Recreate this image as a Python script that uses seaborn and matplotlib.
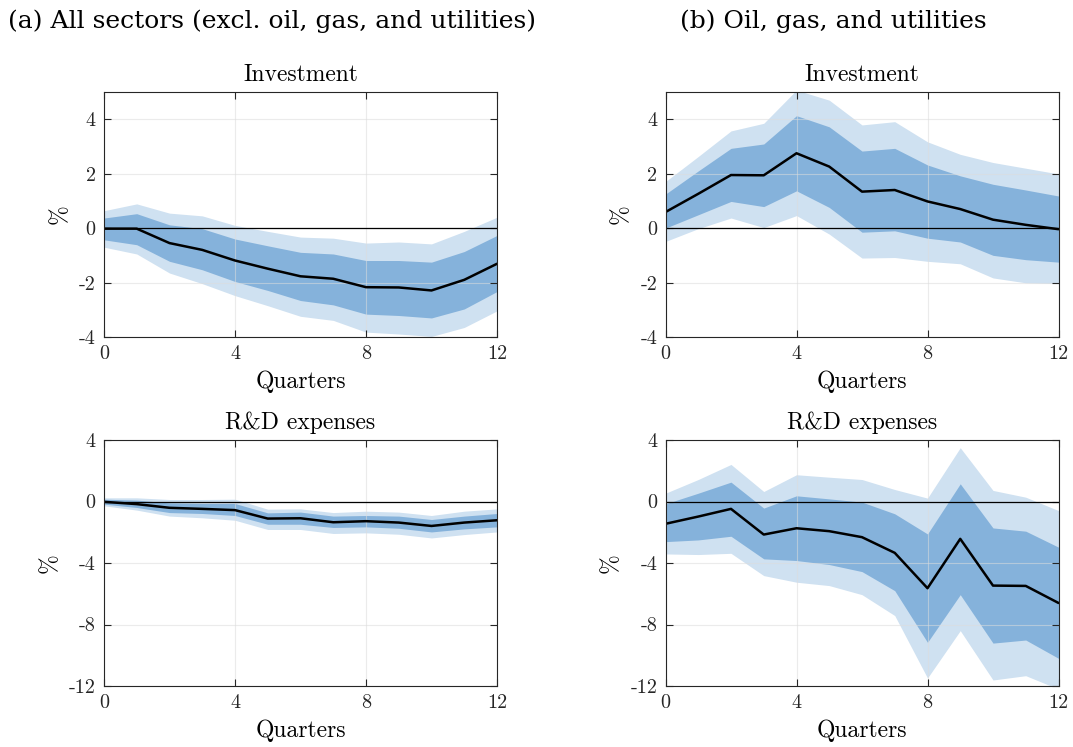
import numpy as np
import pandas as pd
import matplotlib
matplotlib.use("Agg")
import matplotlib.pyplot as plt
from matplotlib.ticker import FuncFormatter, FixedLocator
import seaborn as sns

# Horizon (quarters after the shock)
quarters = list(range(13))

# (a) All sectors, investment
inv_a_mean = [-0.02, -0.02, -0.55, -0.80, -1.19, -1.49, -1.77, -1.86, -2.17, -2.18, -2.29, -1.90, -1.31]
inv_a_lo68 = [-0.43, -0.61, -1.22, -1.53, -1.96, -2.29, -2.66, -2.82, -3.16, -3.21, -3.30, -2.97, -2.33]
inv_a_hi68 = [0.37, 0.53, 0.12, -0.02, -0.40, -0.65, -0.89, -0.95, -1.19, -1.19, -1.25, -0.86, -0.27]
inv_a_lo90 = [-0.70, -0.95, -1.65, -2.04, -2.48, -2.85, -3.24, -3.39, -3.82, -3.89, -3.98, -3.65, -3.04]
inv_a_hi90 = [0.64, 0.89, 0.55, 0.45, 0.10, -0.12, -0.33, -0.37, -0.55, -0.51, -0.58, -0.12, 0.40]

# (b) Oil, gas, and utilities, investment
inv_b_mean = [0.59, 1.26, 1.95, 1.94, 2.75, 2.26, 1.34, 1.40, 0.98, 0.70, 0.31, 0.12, -0.04]
inv_b_lo68 = [0.00, 0.49, 0.98, 0.79, 1.37, 0.76, -0.15, -0.10, -0.37, -0.51, -1.00, -1.16, -1.25]
inv_b_hi68 = [1.25, 2.10, 2.93, 3.09, 4.13, 3.72, 2.83, 2.93, 2.32, 1.92, 1.61, 1.40, 1.18]
inv_b_lo90 = [-0.49, -0.02, 0.37, 0.02, 0.46, -0.22, -1.10, -1.08, -1.22, -1.31, -1.83, -2.01, -2.04]
inv_b_hi90 = [1.71, 2.63, 3.57, 3.85, 5.07, 4.70, 3.79, 3.91, 3.17, 2.71, 2.41, 2.20, 1.99]

# (a) All sectors, R&D expenses
rd_a_mean = [-0.02, -0.17, -0.41, -0.48, -0.56, -1.11, -1.09, -1.35, -1.28, -1.37, -1.59, -1.37, -1.22]
rd_a_lo68 = [-0.17, -0.39, -0.72, -0.78, -0.91, -1.48, -1.48, -1.69, -1.65, -1.74, -1.98, -1.78, -1.65]
rd_a_hi68 = [0.15, 0.09, -0.09, -0.13, -0.13, -0.74, -0.69, -0.95, -0.91, -0.95, -1.17, -0.95, -0.78]
rd_a_lo90 = [-0.28, -0.56, -0.95, -1.06, -1.22, -1.82, -1.82, -2.08, -2.04, -2.13, -2.37, -2.15, -1.98]
rd_a_hi90 = [0.24, 0.24, 0.13, 0.13, 0.15, -0.50, -0.48, -0.72, -0.63, -0.69, -0.91, -0.63, -0.48]

# (b) Oil, gas, and utilities, R&D expenses
rd_b_mean = [-1.45, -0.98, -0.48, -2.15, -1.74, -1.93, -2.32, -3.34, -5.64, -2.43, -5.47, -5.49, -6.60]
rd_b_lo68 = [-2.61, -2.50, -2.26, -3.73, -3.84, -4.10, -4.56, -5.80, -9.16, -6.06, -9.21, -9.01, -10.20]
rd_b_hi68 = [-0.15, 0.54, 1.26, -0.43, 0.37, 0.17, -0.04, -0.80, -2.11, 1.15, -1.72, -1.93, -2.97]
rd_b_lo90 = [-3.41, -3.45, -3.37, -4.82, -5.25, -5.47, -6.06, -7.42, -11.48, -8.40, -11.61, -11.33, -12.20]
rd_b_hi90 = [0.54, 1.43, 2.41, 0.65, 1.74, 1.58, 1.43, 0.78, 0.22, 3.50, 0.72, 0.28, -0.59]

x_ticks = [0, 4, 8, 12]
inv_ticks = [-4, -2, 0, 2, 4]
rd_ticks = [-12, -8, -4, 0, 4]
inv_ylim = (-4, 5)
rd_ylim = (-12, 4)

headers = ["(a) All sectors (excl. oil, gas, and utilities)", "(b) Oil, gas, and utilities"]

light_blue = "#cfe1f1"
mid_blue = "#85b2db"
axis_grey = "#262626"

sns.set_theme(style="white")
plt.rcParams["font.family"] = ["cmr10", "DejaVu Serif"]
plt.rcParams["axes.formatter.use_mathtext"] = False
plt.rcParams["axes.unicode_minus"] = False

fig = plt.figure(figsize=(10.73, 7.47), dpi=100)

W, H = 1073, 747
def px_axes(x0, y0, x1, y1):
    return fig.add_axes([x0 / W, 1 - y1 / H, (x1 - x0) / W, (y1 - y0) / H])

panels = [
    (px_axes(104, 92, 497, 337), "Investment", inv_a_mean, inv_a_lo68, inv_a_hi68, inv_a_lo90, inv_a_hi90, inv_ylim, inv_ticks),
    (px_axes(665.5, 92, 1058.5, 337), "Investment", inv_b_mean, inv_b_lo68, inv_b_hi68, inv_b_lo90, inv_b_hi90, inv_ylim, inv_ticks),
    (px_axes(104, 440, 497, 686), "R&D expenses", rd_a_mean, rd_a_lo68, rd_a_hi68, rd_a_lo90, rd_a_hi90, rd_ylim, rd_ticks),
    (px_axes(665.5, 440, 1058.5, 686), "R&D expenses", rd_b_mean, rd_b_lo68, rd_b_hi68, rd_b_lo90, rd_b_hi90, rd_ylim, rd_ticks),
]

hyphen_fmt = FuncFormatter(lambda v, pos: f"{int(v)}".replace("\u2212", "-"))

for ax, title, mean, lo68, hi68, lo90, hi90, ylim, yt in panels:
    ax.fill_between(quarters, lo90, hi90, color=light_blue, linewidth=0, zorder=1)
    ax.fill_between(quarters, lo68, hi68, color=mid_blue, linewidth=0, zorder=2)
    ax.axhline(0, color="black", linewidth=0.9, zorder=3)
    df = pd.DataFrame({"q": quarters, "v": mean})
    sns.lineplot(data=df, x="q", y="v", ax=ax, color="black", linewidth=1.8, zorder=4)

    ax.set_xlim(0, 12)
    ax.set_ylim(*ylim)
    ax.xaxis.set_major_locator(FixedLocator(x_ticks))
    ax.yaxis.set_major_locator(FixedLocator(yt))
    ax.xaxis.set_major_formatter(hyphen_fmt)
    ax.yaxis.set_major_formatter(hyphen_fmt)
    ax.grid(True, color="#dcdcdc", linewidth=0.8, zorder=0)
    ax.set_axisbelow(False)
    for gl in ax.get_xgridlines() + ax.get_ygridlines():
        gl.set_zorder(5)
        gl.set_alpha(0.55)
    ax.tick_params(direction="in", length=5, width=0.8, colors=axis_grey,
                   labelsize=14.5, top=True, right=True, bottom=True, left=True, pad=6)
    for sp in ax.spines.values():
        sp.set_visible(True)
        sp.set_color(axis_grey)
        sp.set_linewidth(0.8)
        sp.set_zorder(6)
    ax.set_title(title, fontsize=17, color="black", pad=8)
    ax.set_xlabel("Quarters", fontsize=17, color="black", labelpad=5)
    ax.set_ylabel("%", fontsize=17, color="black", labelpad=6)

fig.text(8 / W, 1 - 21 / H, headers[0], fontsize=18, ha="left", va="center",
         color="black", family=["DejaVu Serif"])
fig.text(680 / W, 1 - 21 / H, headers[1], fontsize=18, ha="left", va="center",
         color="black", family=["DejaVu Serif"])

fig.savefig("out.png", dpi=100)
